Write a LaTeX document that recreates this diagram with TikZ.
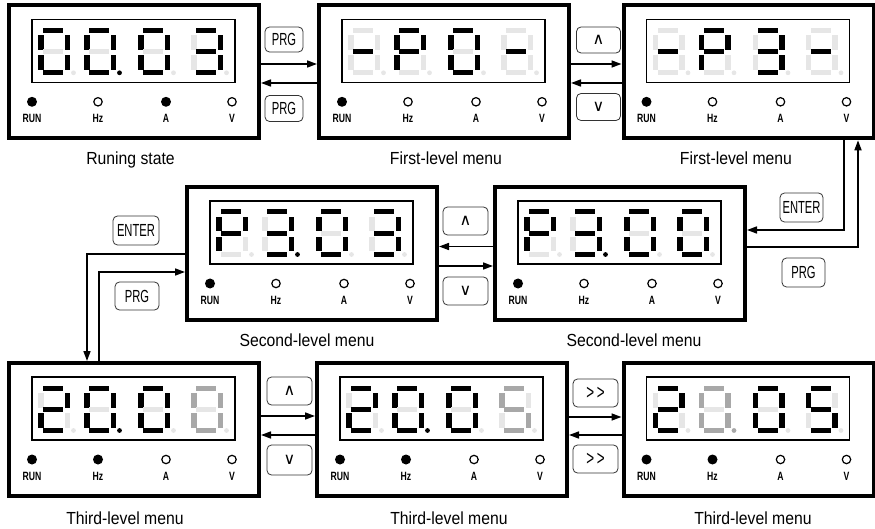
\documentclass[tikz,border=0pt]{standalone}
\usepackage{fontspec}
\setmainfont{Liberation Sans}
\newfontfamily\lblfont[FakeStretch=0.9]{Liberation Sans}
\newfontfamily\btnfont[FakeStretch=0.64]{Liberation Sans}
\newfontfamily\ledfont[FakeStretch=0.72]{Liberation Sans Bold}
\newfontfamily\symfont{DejaVu Sans}
\usetikzlibrary{arrows.meta}
\definecolor{seg0}{HTML}{E6E6E6}
\definecolor{seg1}{HTML}{000000}
\definecolor{seg2}{HTML}{A8A8A8}
\tikzset{
 panelbox/.style={draw, line width=4pt, minimum width=250pt, minimum height=133pt, inner sep=0pt},
 screen/.style={draw, line width=1.2pt},
 btn/.style={draw=black!80, line width=0.8pt, rounded corners=4.5pt, minimum width=43pt, minimum height=27pt, inner sep=0pt, font=\btnfont\fontsize{17.5}{17.5}\selectfont},
 arr/.style={line width=1.6pt, -{Triangle[length=10pt,width=7pt]}},
 ledlbl/.style={font=\ledfont\fontsize{12}{12}\selectfont, inner sep=0pt},
 menulbl/.style={font=\lblfont\fontsize{17.5}{17.5}\selectfont, anchor=base, inner sep=0pt},
}
\newcommand\panel[3]{%
  \node[panelbox] (#1) at (#2+125,#3+66.5) {};
  \draw[screen] (#2+23,#3+14) rectangle (#2+226,#3+77);
}
\newcommand\onedig[8]{%
  \fill[seg#1] (5,-0.5) rectangle (25,4.5);
  \fill[seg#2] (26.5,7) rectangle (32,21.5);
  \fill[seg#3] (26.5,27) rectangle (32,41.5);
  \fill[seg#4] (5,42) rectangle (25,47);
  \fill[seg#5] (0,27) rectangle (5.5,41.5);
  \fill[seg#6] (0,7) rectangle (5.5,21.5);
  \fill[seg#7] (5,21.2) rectangle (25,26);
  \fill[seg#8] (35.5,44.5) circle (2.4);
}
\newcommand\fourdig[6]{%
  \begin{scope}[shift={(#1+29,#2+23)}]\onedig#3\end{scope}
  \begin{scope}[shift={(#1+75,#2+23)}]\onedig#4\end{scope}
  \begin{scope}[shift={(#1+129,#2+23)}]\onedig#5\end{scope}
  \begin{scope}[shift={(#1+182,#2+23)}]\onedig#6\end{scope}
}
\newcommand\led[5]{%
  \ifnum#4=1 \fill (#2,#3) circle (5);\else \draw[line width=1.2pt] (#2,#3) circle (4.2);\fi
  \node[ledlbl] (#1) at (#2,#3+17) {#5};
}
\newcommand\leds[7]{%
  \led{#1run}{#2+23}{#3+96.5}{#4}{RUN}
  \led{#1hz}{#2+89}{#3+96.5}{#5}{Hz}
  \led{#1a}{#2+157}{#3+96.5}{#6}{A}
  \led{#1v}{#2+223}{#3+96.5}{#7}{V}
}
\newcommand\keyup{{\symfont\fontsize{16}{16}\selectfont ∧}}
\newcommand\keydn{{\symfont\fontsize{16}{16}\selectfont ∨}}
\newcommand\keyff{{\fontsize{21}{21}\selectfont >\hspace{2.5pt}>}}
\begin{document}
\begin{tikzpicture}[x=1pt,y=-1pt]
\useasboundingbox (0,0) rectangle (875,529);
% row 1
\panel{b1}{9}{5.3}
\fourdig{9}{5.3}{11111100}{11111101}{11111100}{11110010}
\leds{b1}{9}{5.3}{1}{0}{1}{0}
\panel{b2}{319}{5.3}
\fourdig{319}{5.3}{00000010}{11001110}{11111100}{00000010}
\leds{b2}{319}{5.3}{1}{0}{0}{0}
\panel{b3}{623.5}{5.3}
\fourdig{623.5}{5.3}{00000010}{11001110}{11110010}{00000010}
\leds{b3}{623.5}{5.3}{1}{0}{0}{0}
% row 2
\panel{b4}{187}{187}
\fourdig{187}{187}{11001110}{11110011}{11111100}{11110010}
\leds{b4}{187}{187}{1}{0}{0}{0}
\panel{b5}{495}{187}
\fourdig{495}{187}{11001110}{11110011}{11111100}{11111100}
\leds{b5}{495}{187}{1}{0}{0}{0}
% row 3
\panel{b6}{9}{363}
\fourdig{9}{363}{11011010}{11111101}{11111100}{22222200}
\leds{b6}{9}{363}{1}{1}{0}{0}
\panel{b7}{317}{363}
\fourdig{317}{363}{11011010}{11111101}{11111100}{20220220}
\leds{b7}{317}{363}{1}{1}{0}{0}
\panel{b8}{623.5}{363}
\fourdig{623.5}{363}{11011010}{22222202}{11111100}{10110110}
\leds{b8}{623.5}{363}{1}{1}{0}{0}
% captions
\node[menulbl] (l1) at (130.5,164.5) {Runing state};
\node[menulbl] (l2) at (446,164.5) {First-level menu};
\node[menulbl] (l3) at (736,164.5) {First-level menu};
\node[menulbl] (l4) at (307,346) {Second-level menu};
\node[menulbl] (l5) at (634,346) {Second-level menu};
\node[menulbl] (l6) at (125,524.5) {Third-level menu};
\node[menulbl] (l7) at (449,524.5) {Third-level menu};
\node[menulbl] (l8) at (753,524.5) {Third-level menu};
% buttons
\node[btn, minimum width=38pt, minimum height=25pt] (kprg1) at (284,39.5) {PRG};
\node[btn, minimum width=38pt, minimum height=26pt] (kprg2) at (284,108.5) {PRG};
\node[btn, minimum width=44pt, minimum height=26pt] (kup1) at (598.5,40) {\keyup};
\node[btn, minimum width=44pt, minimum height=27pt] (kdn1) at (598.5,107) {\keydn};
\node[btn, minimum height=29pt] (kent1) at (801.5,207.5) {ENTER};
\node[btn, minimum height=29pt] (kprg3) at (803.5,272.5) {PRG};
\node[btn, minimum width=45pt, minimum height=28pt] (kup2) at (465.5,221) {\keyup};
\node[btn, minimum width=45pt, minimum height=28pt] (kdn2) at (465.5,291) {\keydn};
\node[btn, minimum width=46pt, minimum height=29pt] (kent2) at (136,230.5) {ENTER};
\node[btn, minimum width=44pt, minimum height=28pt] (kprg4) at (137,296) {PRG};
\node[btn, minimum width=45pt, minimum height=28pt] (kup3) at (289.5,391) {\keyup};
\node[btn, minimum width=45pt, minimum height=30pt] (kdn3) at (289.5,460) {\keydn};
\node[btn, minimum width=45pt, minimum height=28pt] (kff1) at (595.5,393) {\keyff};
\node[btn, minimum width=45pt, minimum height=28pt] (kff2) at (595.5,459) {\keyff};
% connectors row 1
\draw[arr] (b1.east |- 0,64) -- (b2.west |- 0,64);
\draw[arr] (b2.west |- 0,83) -- (b1.east |- 0,83);
\draw[arr] (b2.east |- 0,64) -- (b3.west |- 0,64);
\draw[arr] (b3.west |- 0,83) -- (b2.east |- 0,83);
% row 2
\draw[arr] (b5.west |- 0,246.5) -- (b4.east |- 0,246.5);
\draw[arr] (b4.east |- 0,266) -- (b5.west |- 0,266);
\draw[arr] (b3.south -| 844,0) |- (b5.east |- 0,230);
\draw[arr] (b5.east |- 0,247) -| (b3.south -| 858,0);
\draw[arr] (b4.west |- 0,254) -| (b6.north -| 87,0);
\draw[arr] (b6.north -| 99,0) |- (b4.west |- 0,272);
% row 3
\draw[arr] (b6.east |- 0,416) -- (b7.west |- 0,416);
\draw[arr] (b7.west |- 0,435) -- (b6.east |- 0,435);
\draw[arr] (b7.east |- 0,417) -- (b8.west |- 0,417);
\draw[arr] (b8.west |- 0,435) -- (b7.east |- 0,435);
\end{tikzpicture}
\end{document}
